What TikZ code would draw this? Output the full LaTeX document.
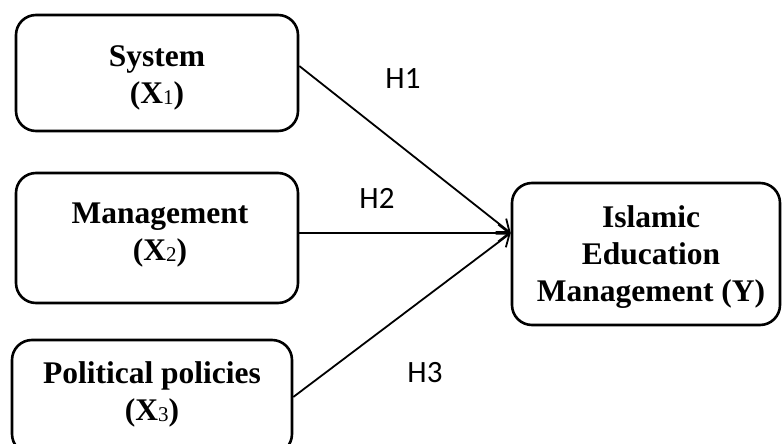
\documentclass[tikz,border=0pt]{standalone}
\usepackage{fontspec}
\setmainfont{Liberation Serif}
\newfontfamily\labfont{Carlito}
\usetikzlibrary{arrows.meta,calc}
\newcommand{\mysub}[1]{\raisebox{-1pt}{\fontsize{21}{21}\selectfont\mdseries #1}}
\tikzset{
  var/.style={draw, line width=2.6pt, rounded corners=20pt, inner sep=0pt},
  vtext/.style={align=center, inner sep=0pt, font=\fontsize{31.5}{37}\selectfont\bfseries},
  link/.style={line width=1.8pt, -{Straight Barb[length=11pt,width=17pt,line width=1.8pt]}},
  hlab/.style={font=\labfont\fontsize{31}{31}\selectfont, inner sep=0pt}
}
\begin{document}
\begin{tikzpicture}[x=1pt,y=-1pt]
\useasboundingbox (0,0) rectangle (782,444);
\node[var, minimum width=282pt, minimum height=116pt] (b1) at (157,73) {};
\node[var, minimum width=282pt, minimum height=130pt] (b2) at (157,238) {};
\node[var, minimum width=280pt, minimum height=114pt] (b3) at (152,397) {};
\node[var, minimum width=268pt, minimum height=142pt] (y) at (646,254) {};
\node[vtext, anchor=base] (t1) at (157,103) {System\\(X\mysub{1})};
\node[vtext, anchor=base] (t2) at (160,260) {Management\\(X\mysub{2})};
\node[vtext, anchor=base] (t3) at (152,420) {Political policies\\(X\mysub{3})};
\node[vtext, anchor=base] (ty) at (651,301) {Islamic\\Education\\Management (Y)};
\coordinate (tip) at ([yshift=21pt]y.west);
\draw[link] ([yshift=7pt]b1.east) -- (tip);
\draw[link] ([yshift=5pt]b2.east) -- (tip);
\draw[link] (b3.east) -- (tip);
\node[hlab] (h1) at (403,79) {H1};
\node[hlab] (h2) at (377,198) {H2};
\node[hlab] (h3) at (425,373) {H3};
\end{tikzpicture}
\end{document}
